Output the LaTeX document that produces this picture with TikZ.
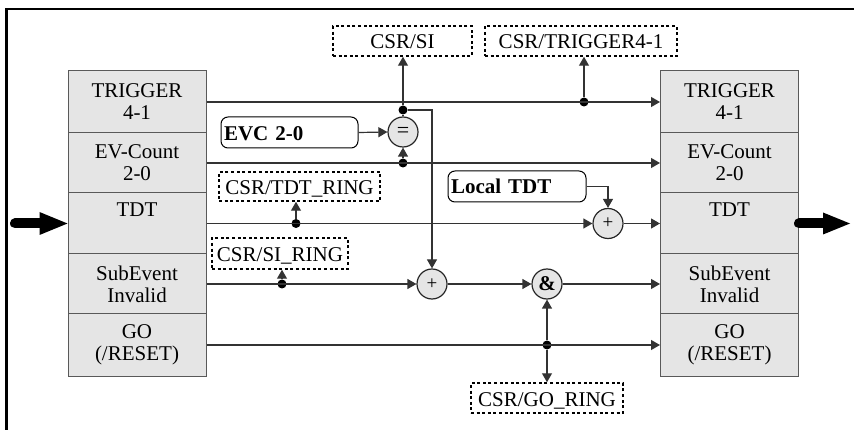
\documentclass[tikz,border=0pt]{standalone}
\usepackage{fontspec}
\setmainfont{Liberation Serif}
\usetikzlibrary{arrows.meta,calc}

\begin{document}
\begin{tikzpicture}[x=1pt,y=-1pt,
  txt/.style={font=\fontsize{21}{22}\selectfont},
  wire/.style={line width=1.2pt, draw=black!80},
  arr/.style={wire, -{Triangle[length=9pt,width=10pt]}},
  cell/.style={txt, draw=black!65, line width=1pt, fill=black!10,
    minimum width=138pt, inner sep=0pt, align=center},
  csr/.style={txt, draw=black, line width=1.5pt, dash pattern=on 3pt off 2.6pt,
    inner sep=0pt, minimum height=30pt, text height=16pt, text depth=0pt},
  src/.style={font=\fontsize{21}{22}\selectfont\bfseries, draw=black, line width=1pt,
    rounded corners=7pt, inner xsep=3pt, inner ysep=0pt, minimum height=31pt,
    align=left, text depth=0pt},
  op/.style={circle, draw=black!85, line width=1.2pt, fill=black!10,
    minimum size=30pt, inner sep=0pt},
  dot/.style={circle, fill=black, minimum size=9pt, inner sep=0pt},
  fat/.style={line width=10pt, line cap=round, draw=black}
]
\useasboundingbox (0,0) rectangle (854,430);

% frame edges
\draw[line width=2.5pt] (6.5,430) -- (6.5,9) -- (854,9);

% left register
\node[cell, minimum height=62pt] (l1) at (137,102)   {TRIGGER\\4-1};
\node[cell, minimum height=60pt] (l2) at (137,163)   {EV-Count\\2-0};
\node[cell, minimum height=61pt] (l3) at (137,223.5) {TDT\\\strut};
\node[cell, minimum height=60pt] (l4) at (137,284)   {SubEvent\\Invalid};
\node[cell, minimum height=62pt] (l5) at (137,345)   {GO\\(/RESET)};

% right register
\node[cell, minimum height=62pt] (r1) at (729.5,102)   {TRIGGER\\4-1};
\node[cell, minimum height=60pt] (r2) at (729.5,163)   {EV-Count\\2-0};
\node[cell, minimum height=61pt] (r3) at (729.5,223.5) {TDT\\\strut};
\node[cell, minimum height=60pt] (r4) at (729.5,284)   {SubEvent\\Invalid};
\node[cell, minimum height=62pt] (r5) at (729.5,345)   {GO\\(/RESET)};

% CSR boxes
\node[csr, minimum width=139pt] (csrsi)  at (402.5,41) {CSR/SI};
\node[csr, minimum width=192pt] (csrtrg) at (581,41)   {CSR/TRIGGER4-1};
\node[csr, minimum width=161pt, minimum height=29pt] (tdtring) at (299.5,186.5) {CSR/TDT\_RING};
\node[csr, minimum width=136pt, minimum height=31pt] (siring)  at (280,253.5)   {CSR/SI\_RING};
\node[csr, minimum width=152pt] (goring) at (547,398) {CSR/GO\_RING};

% constant sources
\node[src, minimum width=137pt, text width=131pt, text height=17pt] (evc)  at (289.5,132.5) {EVC 2-0};
\node[src, minimum width=138pt, text width=132pt, text height=15pt] (ltdt) at (517,186.5)   {Local TDT};

% operators
\node[op, font=\fontsize{22}{24}\selectfont] (eq) at (403,132) {=};
\node[op, font=\fontsize{19}{20}\selectfont] (addS) at (432,284) {+};
\node[op, font=\fontsize{19}{20}\selectfont] (addT) at (608,223.5) {+};
\node[op, font=\fontsize{21}{22}\selectfont\bfseries] (andg) at (547,284) {\&};

% junctions
\node[dot] (jS)   at (403,110) {};
\node[dot] (jE)   at (403,163) {};
\node[dot] (jT)   at (584,102) {};
\node[dot] (jTDT) at (296,223.5) {};
\node[dot] (jSI)  at (282,284) {};
\node[dot] (jG)   at (547,345) {};

% trigger
\draw[arr] (l1.east) -- (r1.west);
\draw[arr] (jT) -- (jT |- csrtrg.south);

% event counter compare
\draw[arr] (l2.east) -- (r2.west);
\draw[arr] (jE) -- (eq.south);
\draw[arr] (evc.east) -- (eq.west);
\draw[wire] (eq.north) -- (jS);
\draw[arr] (jS) -- (jS |- csrsi.south);
\draw[arr] (jS) -| (addS.north);

% TDT
\draw[arr] (l3.east) -- (addT.west);
\draw[arr] (jTDT) -- (jTDT |- tdtring.south);
\draw[arr] (ltdt.east) -| (addT.north);
\draw[arr] (addT.east) -- (r3.west);

% subevent invalid
\draw[arr] (l4.east) -- (addS.west);
\draw[arr] (jSI) -- (jSI |- siring.south);
\draw[arr] (addS.east) -- (andg.west);
\draw[arr] (andg.east) -- (r4.west);

% GO
\draw[arr] (l5.east) -- (r5.west);
\draw[arr] (jG) -- (andg.south);
\draw[arr] (jG) -- (goring.north);

% data flow in / out
\coordinate (inL) at (15,223.5);
\coordinate (outR) at (850,223.5);
\draw[fat] (inL) -- ($(l3.west)+(-26,0)$);
\fill (l3.west) -- ++(-28,-11.5) -- ++(0,23) -- cycle;
\draw[fat] (r3.east) -- ($(outR)+(-25,0)$);
\fill (outR) -- ++(-27,-11) -- ++(0,22) -- cycle;
\end{tikzpicture}
\end{document}
